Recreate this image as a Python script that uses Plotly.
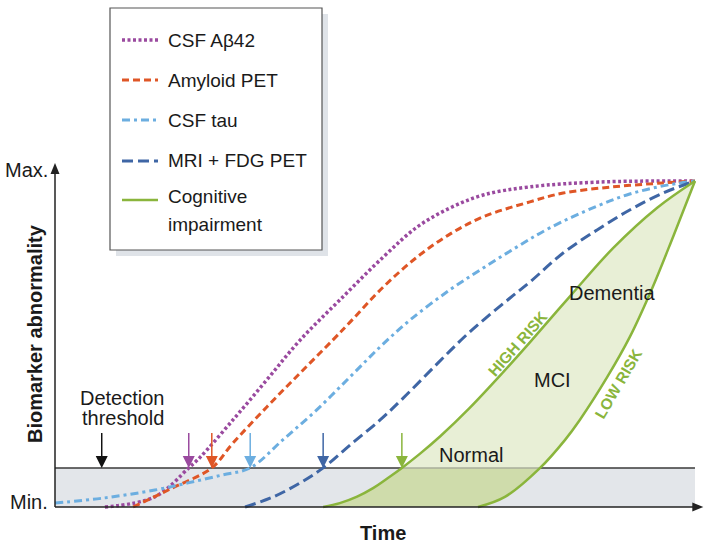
import plotly.graph_objects as go

# ---------------- data (time 0-100, abnormality 0-100 %) ----------------
abeta_t = [7.8, 15.6, 20.9, 22.7, 27.8, 33.1, 38.3, 44.5, 51.3, 56.6, 61.7, 66.9, 74.2, 85.2, 100]
abeta_a = [0, 3.1, 12.0, 15.3, 26.7, 39.0, 51.2, 63.5, 76.7, 85.9, 91.7, 95.7, 98.2, 99.7, 100]

amyl_t = [12.2, 18.3, 24.5, 27.8, 33.1, 38.3, 43.4, 46.1, 51.3, 56.6, 61.7, 66.9, 74.2, 79.4, 87.2, 95.0, 100]
amyl_a = [0, 5.8, 12.0, 19.6, 30.7, 41.1, 51.2, 56.7, 67.5, 76.7, 83.7, 89.0, 93.6, 96.3, 98.2, 99.4, 100]

tau_t = [0, 7.8, 15.6, 20.8, 26.1, 30.5, 35.6, 40.9, 46.1, 50.8, 55.5, 61.7, 66.9, 72.2, 77.3, 84.7, 89.8, 95.0, 100]
tau_a = [1.2, 2.8, 5.2, 7.4, 9.8, 12.0, 20.6, 29.8, 39.9, 49.1, 57.4, 66.6, 73.3, 79.8, 85.6, 92.3, 96.0, 98.5, 100]

mri_t = [29.7, 34.1, 38.3, 41.9, 46.1, 50.8, 54.4, 59.7, 64.8, 71.1, 74.2, 79.4, 84.7, 89.8, 95.0, 100]
mri_a = [0, 3.1, 7.4, 12.0, 19.0, 26.7, 33.4, 43.9, 53.7, 64.1, 69.0, 77.9, 85.0, 91.1, 96.3, 100]

high_t = [41.9, 44.5, 47.2, 49.7, 52.3, 54.2, 57.0, 60.2, 64.8, 70.0, 74.2, 80.5, 87.2, 94.1, 100]
high_a = [0, 1.2, 3.2, 5.8, 9.3, 12.0, 16.3, 21.7, 30.4, 41.3, 50.5, 64.7, 79.4, 91.8, 100]

low_t = [66.1, 70.3, 75.8, 79.7, 82.0, 86.3, 89.8, 93.4, 96.6, 100]
low_a = [0, 3.1, 12.0, 20.6, 26.7, 39.9, 52.1, 67.5, 83.0, 100]

threshold = 12.0
onset_t = [20.9, 24.5, 30.5, 41.9, 54.2]     # threshold crossings marked by arrows
detect_arrow_t = 7.3
arrow_top = 22.7
y_max_tip, x_max_tip = 105.5, 101.3

series_names = ["CSF A\u03b242", "Amyloid PET", "CSF tau", "MRI + FDG PET", "Cognitive impairment"]
colors = ["#9a4a9f", "#df5626", "#6caee0", "#3f66a5", "#8ab53c"]
dashes = ["3px,2.5px", "7px,4px", "8px,4px,3px,4px", "11px,5px", "solid"]
widths = [3.5, 3, 3, 3, 2.5]

FONT = "Liberation Sans, Arial, sans-serif"
TXT = "#1a1a1a"
AX = "#222222"
W, H = 709, 545

fig = go.Figure()

# green region (MCI / dementia band)
fig.add_trace(go.Scatter(x=high_t + low_t[::-1], y=high_a + low_a[::-1], mode="lines",
                         fill="toself", fillcolor="#e8efd6", line=dict(width=0),
                         hoverinfo="skip", showlegend=False))
hi_below = [(t, a) for t, a in zip(high_t, high_a) if a <= threshold]
lo_below = [(t, a) for t, a in zip(low_t, low_a) if a <= threshold]
poly = hi_below + lo_below[::-1]
fig.add_trace(go.Scatter(x=[p[0] for p in poly], y=[p[1] for p in poly], mode="lines",
                         fill="toself", fillcolor="#cfdcab", line=dict(width=0),
                         hoverinfo="skip", showlegend=False))
fig.add_trace(go.Scatter(x=[hi_below[-1][0], lo_below[-1][0]], y=[threshold, threshold],
                         mode="lines", line=dict(color="#a8ae9a", width=1.5),
                         hoverinfo="skip", showlegend=False))

curves = [(abeta_t, abeta_a), (amyl_t, amyl_a), (tau_t, tau_a), (mri_t, mri_a)]
for (t, a), c, d, w, n in zip(curves, colors[:4], dashes[:4], widths[:4], series_names[:4]):
    fig.add_trace(go.Scatter(x=t, y=a, mode="lines", name=n,
                             line=dict(color=c, dash=d, width=w, shape="spline", smoothing=1),
                             showlegend=False))
for t, a in [(high_t, high_a), (low_t, low_a)]:
    fig.add_trace(go.Scatter(x=t, y=a, mode="lines", name=series_names[4],
                             line=dict(color=colors[4], width=widths[4], shape="spline", smoothing=1),
                             showlegend=False))

shapes = []
# below-threshold band and threshold line
shapes.append(dict(type="rect", xref="x", yref="y", x0=0, x1=100, y0=0, y1=threshold,
                   fillcolor="#e3e6ea", line=dict(width=0), layer="below"))
shapes.append(dict(type="line", xref="x", yref="y", x0=0, x1=100, y0=threshold, y1=threshold,
                   line=dict(color="#3a3a3a", width=1.5), layer="below"))

# axes with arrowheads
shapes.append(dict(type="line", xref="x", yref="y", x0=0, x1=0, y0=0, y1=y_max_tip - 2,
                   line=dict(color=AX, width=1.5)))
shapes.append(dict(type="line", xref="x", yref="y", x0=0, x1=x_max_tip - 1, y0=0, y1=0,
                   line=dict(color=AX, width=1.5)))
shapes.append(dict(type="path", xref="x", yref="y", xsizemode="pixel", ysizemode="pixel",
                   xanchor=0, yanchor=y_max_tip, path="M-4.5,-11 L4.5,-11 L0,0 Z",
                   fillcolor=AX, line=dict(width=0)))
shapes.append(dict(type="path", xref="x", yref="y", xsizemode="pixel", ysizemode="pixel",
                   xanchor=x_max_tip, yanchor=0, path="M-11,-4.5 L-11,4.5 L0,0 Z",
                   fillcolor=AX, line=dict(width=0)))

# onset arrows (shaft + triangular head with tip on the threshold)
for t, c in zip(onset_t + [detect_arrow_t], colors + ["#111111"]):
    shapes.append(dict(type="line", xref="x", yref="y", x0=t, x1=t, y0=threshold + 2, y1=arrow_top,
                       line=dict(color=c, width=1.5)))
    shapes.append(dict(type="path", xref="x", yref="y", xsizemode="pixel", ysizemode="pixel",
                       xanchor=t, yanchor=threshold, path="M-6,12 L6,12 L0,0 Z",
                       fillcolor=c, line=dict(width=0)))

# legend box (paper coords from pixel positions)
def px(xp):
    return xp / W
def py(yp):
    return 1 - yp / H

shapes.append(dict(type="rect", xref="paper", yref="paper", x0=px(116), x1=px(328), y0=py(256), y1=py(14),
                   fillcolor="#dfe3e8", line=dict(width=0)))
shapes.append(dict(type="rect", xref="paper", yref="paper", x0=px(110), x1=px(322), y0=py(250), y1=py(8),
                   fillcolor="white", line=dict(color="#555555", width=1.2)))
row_y = [40, 80, 120, 161, 200]
for yy, c, d, w in zip(row_y, colors, dashes, widths):
    shapes.append(dict(type="line", xref="paper", yref="paper", x0=px(122), x1=px(158), y0=py(yy), y1=py(yy),
                       line=dict(color=c, dash=d, width=w)))

ann = []
leg_text = [("CSF A\u03b242", 40), ("Amyloid PET", 80), ("CSF tau", 120), ("MRI + FDG PET", 161),
            ("Cognitive", 197), ("impairment", 225)]
for s, yy in leg_text:
    ann.append(dict(xref="paper", yref="paper", x=px(166), y=py(yy), text=s, showarrow=False,
                    xanchor="left", yanchor="middle", font=dict(size=19, color=TXT, family=FONT)))

def label(x, y, s, size=20, bold=False, color=TXT, angle=0, xanchor="center"):
    ann.append(dict(x=x, y=y, xref="x", yref="y", text=f"<b>{s}</b>" if bold else s, showarrow=False,
                    xanchor=xanchor, yanchor="middle", textangle=angle,
                    font=dict(size=size, color=color, family=FONT)))

label(-0.8, 103.4, "Max.", xanchor="right")
label(-0.8, 1.5, "Min.", xanchor="right")
label(-3.1, 53.1, "Biomarker abnormality", bold=True, angle=-90)
label(51.25, -8.0, "Time", bold=True)
label(10.6, 33.4, "Detection")
label(10.6, 27.3, "threshold")
label(65.05, 15.95, "Normal")
label(77.8, 39.0, "MCI")
label(87.0, 65.6, "Dementia")
label(72.3, 50.3, "HIGH RISK", size=15.5, bold=True, color=colors[4], angle=-48.5)
label(88.0, 38.0, "LOW RISK", size=15.5, bold=True, color=colors[4], angle=-59.6)

fig.update_layout(
    width=W, height=H, autosize=False,
    margin=dict(l=0, r=0, t=0, b=0, pad=0),
    paper_bgcolor="white", plot_bgcolor="white",
    xaxis=dict(range=[-8.594, 102.19], visible=False, fixedrange=True),
    yaxis=dict(range=[-11.656, 155.52], visible=False, fixedrange=True),
    shapes=shapes, annotations=ann, showlegend=False,
    font=dict(family=FONT),
)

fig.write_html("out.html", config={"displayModeBar": False},
               post_script="document.body.style.margin='0';document.body.style.overflow='hidden';")
